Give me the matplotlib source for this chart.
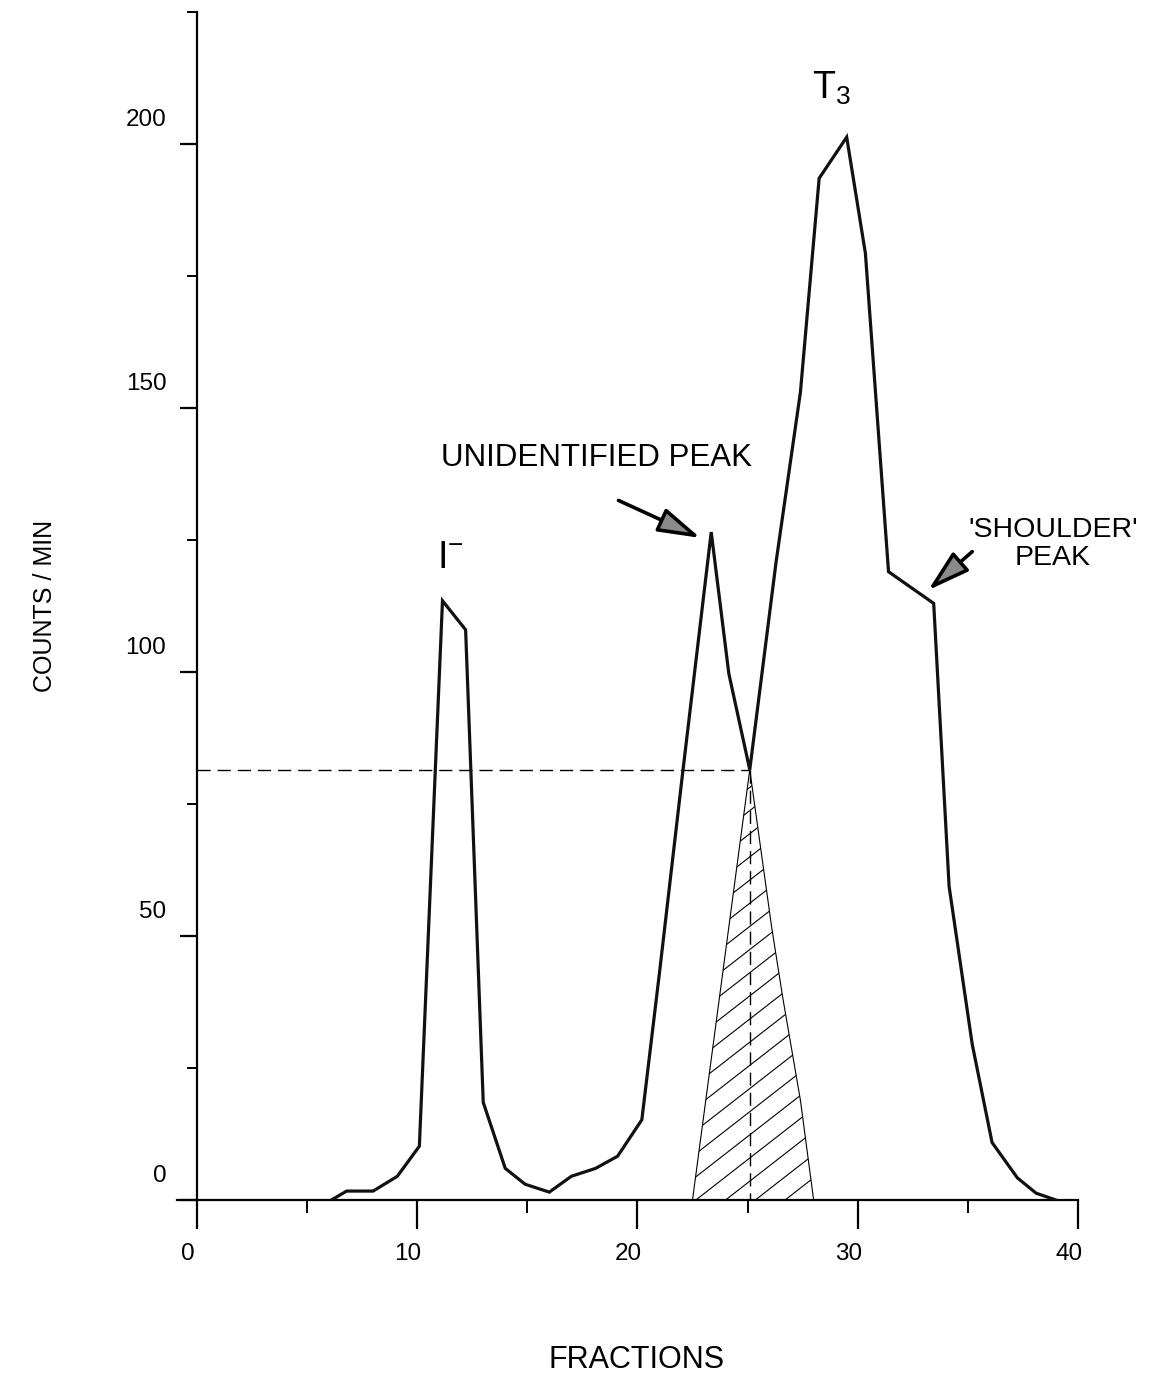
import numpy as np
import matplotlib
matplotlib.use("Agg")
import matplotlib.pyplot as plt
from matplotlib.patches import Polygon
from matplotlib.transforms import ScaledTranslation

plt.rcParams['font.family'] = ['Liberation Sans', 'DejaVu Sans']
plt.rcParams['mathtext.fontset'] = 'custom'
plt.rcParams['mathtext.rm'] = 'Liberation Sans'

# elution profile (fraction number, counts/min)
fractions = [6.1, 6.8, 8.0, 9.1, 10.1, 11.15, 12.2, 13.0, 14.0, 14.9, 16.0, 17.0,
             18.1, 19.1, 20.2, 21.0, 22.0, 23.35, 24.15, 25.1, 26.3, 27.4, 28.25,
             29.5, 30.35, 31.4, 33.45, 34.15, 35.2, 36.1, 37.25, 38.1, 39.0]
counts = [0, 1.7, 1.7, 4.5, 10.2, 113.5, 108, 18.5, 6.0, 3.0, 1.5, 4.5,
          6.0, 8.3, 15.2, 43, 79, 126.5, 99.7, 81.5, 121, 153, 193.5,
          201.3, 179.3, 119, 113, 59.4, 29.5, 10.9, 4.2, 1.3, 0]

# overlap of the two peaks (hatched area)
overlap_x = [22.5, 25.1, 26.1, 26.6, 27.4, 28.0]
overlap_y = [0, 81.5, 51.5, 38.3, 18.9, 0]
cross_x, cross_y = 25.1, 81.5

x_major = [0, 10, 20, 30, 40]
x_minor = [5, 15, 25, 35]
y_major = [0, 50, 100, 150, 200]
y_minor = [25, 75, 125, 175, 225]

fig = plt.figure(figsize=(11.55, 13.8), dpi=100)
ax = fig.add_axes([0.1533, 0.1304, 0.78, 0.8609])
ax.set_xlim(-0.9, 40)
ax.set_ylim(0, 225)

ax.spines['top'].set_visible(False)
ax.spines['right'].set_visible(False)
ax.spines['left'].set_position(('data', 0))
for s in ['left', 'bottom']:
    ax.spines[s].set_linewidth(1.6)

ax.set_xticks(x_major)
ax.set_xticks(x_minor, minor=True)
ax.set_yticks(y_major)
ax.set_yticks(y_minor, minor=True)
ax.set_xticklabels([str(v) for v in x_major])
ax.set_yticklabels([str(v) for v in y_major])

ax.tick_params(axis='x', which='major', length=21, width=1.6, labelsize=17.5, pad=10)
ax.tick_params(axis='x', which='minor', length=9.5, width=1.4)
ax.tick_params(axis='y', which='major', length=12, width=1.6, labelsize=17.5, pad=10)
ax.tick_params(axis='y', which='minor', length=7, width=1.4)

# labels sit a bit off their ticks in the original
for lab in ax.get_yticklabels():
    lab.set_transform(lab.get_transform() + ScaledTranslation(0, 0.27, fig.dpi_scale_trans))
for lab in ax.get_xticklabels():
    lab.set_transform(lab.get_transform() + ScaledTranslation(-0.09, 0, fig.dpi_scale_trans))

ax.set_xlabel("FRACTIONS", fontsize=22, va='center')
ax.xaxis.set_label_coords(0.5105, -0.1345)
ax.set_ylabel("COUNTS / MIN", fontsize=18, va='center')
ax.yaxis.set_label_coords(-0.1465, 0.5)

# main curve
ax.plot(fractions, counts, color='#111111', lw=2.3, solid_joinstyle='miter', zorder=3)

# hatched overlap region
poly = Polygon(np.column_stack([overlap_x, overlap_y]), closed=True, fill=False,
               ec='black', lw=0.8, zorder=2)
ax.add_patch(poly)
k = np.tan(np.radians(38)) * 22.0 / 5.29
for c in np.arange(-3.0, 30.0, 1.35):
    xs = np.array([c, c + 40])
    ln, = ax.plot(xs, k * (xs - c), color='black', lw=0.8, zorder=2)
    ln.set_clip_path(poly)

# dashed guides
ax.plot([0, cross_x], [cross_y, cross_y], color='black', lw=1.0, dashes=(9.5, 5), zorder=2)
ax.plot([cross_x, cross_x], [cross_y, 0], color='black', lw=1.0, dashes=(9.5, 5), zorder=2)

# peak labels
ax.text(28.8, 210.5, r'$\mathregular{T_3}$', fontsize=27, ha='center', va='center')
ax.text(11.5, 121.6, r'$\mathregular{I^{-}}$', fontsize=27, ha='center', va='center')
ax.text(18.14, 140.6, "UNIDENTIFIED PEAK", fontsize=22.5, ha='center', va='center')
ax.text(38.86, 124.2, "'SHOULDER'\nPEAK", fontsize=20.5, ha='center', va='center',
        multialignment='center', linespacing=1.1)

arrow = dict(arrowstyle='-|>,head_length=1.3,head_width=0.38', fc='#8a8a8a', ec='black',
             lw=2.6, mutation_scale=20, shrinkA=0, shrinkB=0)
ax.annotate('', xy=(22.86, 125.4), xytext=(19.14, 132.5), arrowprops=arrow)
ax.annotate('', xy=(33.2, 115.5), xytext=(35.2, 122.8), arrowprops=arrow)

fig.savefig("out.png", dpi=100)
